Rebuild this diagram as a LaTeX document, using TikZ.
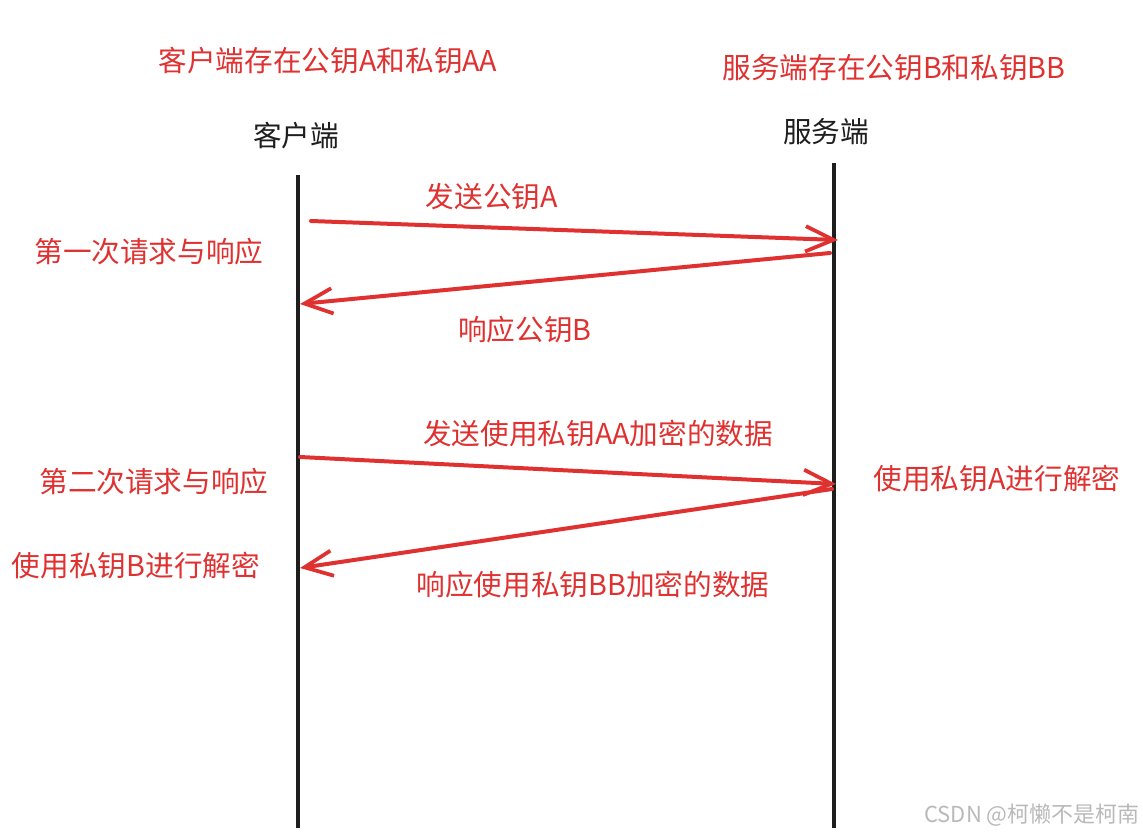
\documentclass[tikz,border=0pt]{standalone}
\usepackage{fontspec}
\setmainfont{Noto Sans CJK SC}
\usetikzlibrary{arrows.meta}
\definecolor{pen}{HTML}{E03131}
\definecolor{ink}{HTML}{1E1E1E}
\begin{document}
\begin{tikzpicture}[x=0.75pt,y=-0.75pt,
    lifeline/.style={ink,line width=2.4pt},
    msg/.style={pen,line width=3pt,line cap=round,
        -{Straight Barb[length=21pt,width=19pt,line width=2.8pt]}},
    lbl/.style={pen,inner sep=0pt,font=\fontsize{21.5}{24}\selectfont},
    role/.style={ink,inner sep=0pt,font=\fontsize{21.5}{24}\selectfont}]
    \useasboundingbox (0,0) rectangle (1143,835);
    \node [lbl] (keysC) at (328,61) {客户端存在公钥A和私钥AA};
    \node [lbl] (keysS) at (894,68) {服务端存在公钥B和私钥BB};
    \node [role] (client) at (296,136) {客户端};
    \node [role] (server) at (826,132) {服务端};
    \coordinate (ctop) at (298,175);
    \coordinate (cbot) at (298,828);
    \coordinate (stop) at (834,163);
    \coordinate (sbot) at (834,828);
    \draw [lifeline] (ctop) -- (cbot);
    \draw [lifeline] (stop) -- (sbot);
    \coordinate (a1s) at (311,221);
    \coordinate (a1e) at (838,240);
    \coordinate (a2s) at (830,253);
    \coordinate (a2e) at (300,304);
    \coordinate (a3s) at (300,457);
    \coordinate (a3e) at (836,484);
    \coordinate (a4s) at (832,489);
    \coordinate (a4e) at (300,568);
    \draw [msg] (a1s) -- (a1e);
    \draw [msg] (a2s) -- (a2e);
    \draw [msg] (a3s) -- (a3e);
    \draw [msg] (a4s) -- (a4e);
    \node [lbl] (send1) at (492,197) {发送公钥A};
    \node [lbl] (resp1) at (525,330) {响应公钥B};
    \node [lbl] (send2) at (598,434) {发送使用私钥AA加密的数据};
    \node [lbl] (resp2) at (593,585) {响应使用私钥BB加密的数据};
    \node [lbl] (round1) at (149,252) {第一次请求与响应};
    \node [lbl] (round2) at (154,482) {第二次请求与响应};
    \node [lbl] (decB) at (136,566) {使用私钥B进行解密};
    \node [lbl] (decA) at (997,479) {使用私钥A进行解密};
    \node [gray!55,inner sep=0pt,font=\fontsize{16.5}{18}\selectfont] (mark) at (1032,815) {CSDN @柯懒不是柯南};
\end{tikzpicture}
\end{document}
